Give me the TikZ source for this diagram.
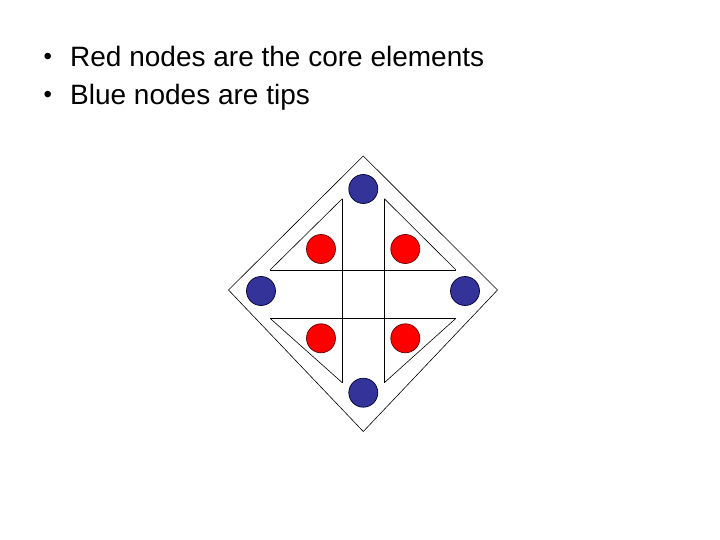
\documentclass[tikz,border=0pt]{standalone}
\usepackage{fontspec}
\setmainfont{Liberation Sans}
\begin{document}
\begin{tikzpicture}[x=1pt,y=-1pt,
  edge/.style={draw=black,line width=0.6pt},
  tip/.style={circle,draw=black!80!blue,fill={rgb,255:red,51;green,51;blue,153},line width=0.7pt,minimum size=29pt,inner sep=0pt},
  core/.style={circle,draw=black!60!red,fill={rgb,255:red,255;green,0;blue,0},line width=0.7pt,minimum size=29pt,inner sep=0pt},
  txt/.style={anchor=base west,inner sep=0pt,font=\fontsize{28}{33}\selectfont},
  bul/.style={anchor=base west,inner sep=0pt,font=\fontsize{24}{28}\selectfont}]
\useasboundingbox (0,0) rectangle (720,540);
% text
\node[bul] (b1) at (43.5,65) {•};
\node[txt] (t1) at (70,67) {Red nodes are the core elements};
\node[bul] (b2) at (43.5,103) {•};
\node[txt] (t2) at (70,105) {Blue nodes are tips};
% outer diamond
\coordinate (dt) at (363.3,156);
\coordinate (dl) at (228.5,290);
\coordinate (dr) at (497.5,290);
\coordinate (db) at (363.3,431.5);
\draw[edge] (dt) -- (dr) -- (db) -- (dl) -- cycle;
% cross lines
\coordinate (v1t) at (342.3,198.7);
\coordinate (v1b) at (342.3,382.7);
\coordinate (v2t) at (384.3,198.7);
\coordinate (v2b) at (384.3,382.7);
\coordinate (h1l) at (270,270);
\coordinate (h1r) at (456,270);
\coordinate (h2l) at (270,318.3);
\coordinate (h2r) at (456,318.3);
\draw[edge] (v1t) -- (v1b);
\draw[edge] (v2t) -- (v2b);
\draw[edge] (h1l) -- (h1r);
\draw[edge] (h2l) -- (h2r);
\draw[edge] (v1t) -- (h1l);
\draw[edge] (v2t) -- (h1r);
\draw[edge] (h2l) -- (v1b);
\draw[edge] (h2r) -- (v2b);
% nodes
\node[tip] (bt) at (363.3,189) {};
\node[tip] (bl) at (261,291) {};
\node[tip] (br) at (465,291) {};
\node[tip] (bb) at (363.3,392.7) {};
\node[core] (rtl) at (321,249) {};
\node[core] (rtr) at (405.3,249) {};
\node[core] (rbl) at (321,338.3) {};
\node[core] (rbr) at (405.3,338.3) {};
\end{tikzpicture}
\end{document}
